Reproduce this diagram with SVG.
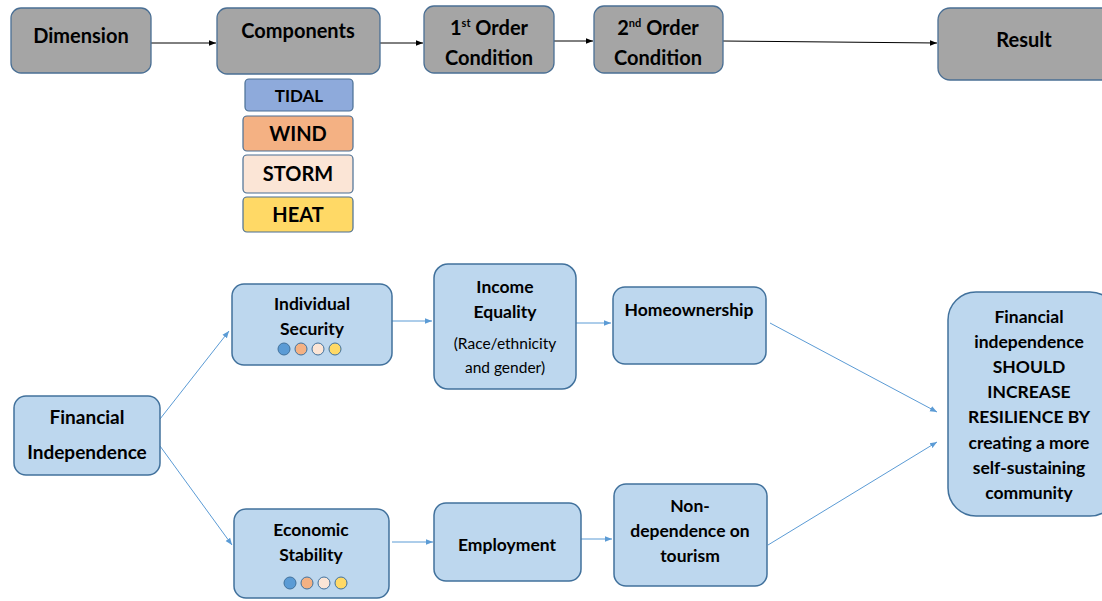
<svg xmlns="http://www.w3.org/2000/svg" width="1102" height="601" viewBox="0 0 1102 601">
  <defs>
    <style>
      text { font-family: Lato, "Liberation Sans", sans-serif; font-weight: bold; fill: #000; text-anchor: middle; }
      .top { fill: #a5a5a5; stroke: #4a6f94; stroke-width: 1.3; }
      .chip { stroke: #4a6f94; stroke-width: 1.2; }
      .blue { fill: #bdd7ee; stroke: #41719c; stroke-width: 1.5; }
      .t19 { font-size: 20px; }
      .t17 { font-size: 17px; }
      .t16 { font-size: 17.5px; }
      .t18 { font-size: 19px; }
      .reg { font-weight: normal; font-size: 15.5px; }
      .dot { stroke: #41719c; stroke-width: 1; }
      .k { stroke: #000; stroke-width: 1; fill: none; marker-end: url(#ka); }
      .b { stroke: #5b9bd5; stroke-width: 1; fill: none; marker-end: url(#ba); }
    </style>
    <marker id="ka" viewBox="0 0 10 10" refX="10" refY="5" markerWidth="7" markerHeight="7" markerUnits="userSpaceOnUse" orient="auto">
      <path d="M0,1 L10,5 L0,9 Z" fill="#000"/>
    </marker>
    <marker id="ba" viewBox="0 0 10 10" refX="10" refY="5" markerWidth="7" markerHeight="7" markerUnits="userSpaceOnUse" orient="auto">
      <path d="M0,1 L10,5 L0,9 Z" fill="#5b9bd5"/>
    </marker>
  </defs>
  <rect width="1102" height="601" fill="#fff"/>

  <g id="connectors">
    <line class="k" x1="151" y1="43" x2="216" y2="43"/>
    <line class="k" x1="380" y1="43" x2="423" y2="43"/>
    <line class="k" x1="554" y1="41" x2="593" y2="41"/>
    <line class="k" x1="723" y1="41" x2="937" y2="43"/>
    <line class="b" x1="160" y1="419" x2="229" y2="331"/>
    <line class="b" x1="160" y1="446" x2="232" y2="545"/>
    <line class="b" x1="392" y1="321" x2="432" y2="321"/>
    <line class="b" x1="576" y1="323" x2="611" y2="323"/>
    <line class="b" x1="770" y1="323" x2="937" y2="412"/>
    <line class="b" x1="392" y1="542" x2="433" y2="542"/>
    <line class="b" x1="581" y1="539" x2="612" y2="539"/>
    <line class="b" x1="768" y1="545" x2="937" y2="442"/>
  </g>

  <g id="dimension">
    <rect class="top" x="11" y="8" width="140" height="65" rx="10"/>
    <text class="t19" x="81" y="43">Dimension</text>
  </g>
  <g id="components">
    <rect class="top" x="217" y="8" width="163" height="66" rx="10"/>
    <text class="t19" x="298" y="38">Components</text>
  </g>
  <g id="first-order">
    <rect class="top" x="424" y="6" width="130" height="67" rx="10"/>
    <text class="t19" x="489" y="35">1<tspan font-size="11" dy="-8">st</tspan><tspan dy="8"> Order</tspan></text>
    <text class="t19" x="489" y="65">Condition</text>
  </g>
  <g id="second-order">
    <rect class="top" x="594" y="6" width="129" height="67" rx="10"/>
    <text class="t19" x="658" y="35">2<tspan font-size="11" dy="-8">nd</tspan><tspan dy="8"> Order</tspan></text>
    <text class="t19" x="658" y="65">Condition</text>
  </g>
  <g id="result">
    <rect class="top" x="938" y="8" width="176" height="72" rx="12"/>
    <text class="t19" x="1024" y="47">Result</text>
  </g>

  <g id="tidal">
    <rect class="chip" x="245" y="79" width="108" height="32" rx="4" fill="#8eaadb"/>
    <text class="t17" x="299" y="102">TIDAL</text>
  </g>
  <g id="wind">
    <rect class="chip" x="243" y="116" width="110" height="35" rx="4" fill="#f4b183"/>
    <text class="t19" x="298" y="141">WIND</text>
  </g>
  <g id="storm">
    <rect class="chip" x="243" y="155" width="110" height="38" rx="4" fill="#fbe5d6"/>
    <text class="t19" x="298" y="181">STORM</text>
  </g>
  <g id="heat">
    <rect class="chip" x="243" y="197" width="110" height="35" rx="4" fill="#ffd966"/>
    <text class="t19" x="298" y="222">HEAT</text>
  </g>

  <g id="financial-independence">
    <rect class="blue" x="14" y="396" width="146" height="79" rx="12"/>
    <text class="t18" x="87" y="424">Financial</text>
    <text class="t18" x="87" y="459">Independence</text>
  </g>
  <g id="individual-security">
    <rect class="blue" x="232" y="284" width="160" height="81" rx="12"/>
    <text class="t16" x="312" y="310">Individual</text>
    <text class="t16" x="312" y="335">Security</text>
    <circle class="dot" cx="284" cy="349" r="6" fill="#5b9bd5"/>
    <circle class="dot" cx="301" cy="349" r="6" fill="#f4b183"/>
    <circle class="dot" cx="318" cy="349" r="6" fill="#fbe5d6"/>
    <circle class="dot" cx="335" cy="349" r="6" fill="#ffd966"/>
  </g>
  <g id="income-equality">
    <rect class="blue" x="434" y="264" width="142" height="125" rx="14"/>
    <text class="t16" x="505" y="293">Income</text>
    <text class="t16" x="505" y="318">Equality</text>
    <text class="reg" x="505" y="349">(Race/ethnicity</text>
    <text class="reg" x="505" y="373">and gender)</text>
  </g>
  <g id="homeownership">
    <rect class="blue" x="613" y="287" width="153" height="77" rx="12"/>
    <text class="t16" x="689" y="316">Homeownership</text>
  </g>
  <g id="economic-stability">
    <rect class="blue" x="234" y="509" width="155" height="89" rx="12"/>
    <text class="t16" x="311" y="536">Economic</text>
    <text class="t16" x="311" y="561">Stability</text>
    <circle class="dot" cx="290" cy="583" r="6" fill="#5b9bd5"/>
    <circle class="dot" cx="307" cy="583" r="6" fill="#f4b183"/>
    <circle class="dot" cx="324" cy="583" r="6" fill="#fbe5d6"/>
    <circle class="dot" cx="341" cy="583" r="6" fill="#ffd966"/>
  </g>
  <g id="employment">
    <rect class="blue" x="434" y="503" width="147" height="78" rx="12"/>
    <text class="t16" x="507" y="551">Employment</text>
  </g>
  <g id="non-dependence">
    <rect class="blue" x="614" y="484" width="153" height="102" rx="12"/>
    <text class="t16" x="690" y="512">Non-</text>
    <text class="t16" x="690" y="537">dependence on</text>
    <text class="t16" x="690" y="562">tourism</text>
  </g>
  <g id="outcome">
    <rect class="blue" x="948" y="292" width="170" height="224" rx="28"/>
    <text class="t16" x="1029" y="323">Financial</text>
    <text class="t16" x="1029" y="348">independence</text>
    <text class="t16" x="1029" y="373">SHOULD</text>
    <text class="t16" x="1029" y="398">INCREASE</text>
    <text class="t16" x="1029" y="423">RESILIENCE BY</text>
    <text class="t16" x="1029" y="449">creating a more</text>
    <text class="t16" x="1029" y="474">self-sustaining</text>
    <text class="t16" x="1029" y="499">community</text>
  </g>
</svg>
